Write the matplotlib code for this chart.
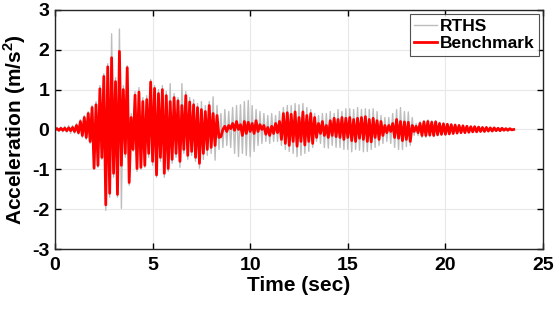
import numpy as np
import matplotlib
matplotlib.use("Agg")
import matplotlib.pyplot as plt

# sample step (s) of the peak-to-peak readings below
DT = 0.1

# Benchmark acceleration (m/s^2), one row per second
benchmark = [
    0.0, 0.02, -0.02, 0.03, -0.02, 0.03, -0.03, 0.04, -0.03, 0.05,
    -0.05, 0.1, -0.08, 0.2, -0.15, 0.3, -0.2, 0.4, -0.3, 0.55,
    -0.97, 0.62, -0.9, 1.02, -0.7, 1.33, -1.89, 1.57, -1.6, 1.8,
    -1.1, 1.2, -1.63, 1.96, -0.9, 1.0, -0.6, 1.55, -1.33, 0.3,
    -0.5, 0.86, -0.98, 0.94, -0.95, 0.7, -0.9, 0.75, -0.6, 1.19,
    -0.8, 1.03, -1.14, 0.9, -0.7, 1.0, -1.1, 0.85, -0.98, 0.7,
    -0.75, 0.8, -0.6, 0.72, -0.8, 0.6, -0.5, 0.85, -0.65, 0.69,
    -0.55, 0.62, -0.7, 0.55, -0.85, 0.5, -0.6, 0.45, -0.5, 0.6,
    -0.45, 0.4, -0.4, 0.35, -0.2, -0.18, 0.0, 0.08, -0.05, 0.1,
    0.02, 0.15, -0.02, 0.2, 0.0, 0.12, -0.15, 0.2, -0.1, 0.18,
    -0.05, 0.15, -0.1, 0.22, -0.05, 0.12, 0.0, 0.1, -0.12, 0.05,
    -0.15, 0.08, -0.1, 0.15, -0.08, 0.2, -0.25, 0.4, -0.35, 0.42,
    -0.4, 0.38, -0.3, 0.44, -0.42, 0.3, -0.3, 0.44, -0.39, 0.35,
    -0.3, 0.4, -0.35, 0.3, -0.2, 0.15, -0.1, 0.2, -0.15, 0.1,
    -0.2, 0.22, -0.15, 0.28, -0.18, 0.25, -0.2, 0.3, -0.25, 0.28,
    -0.2, 0.3, -0.28, 0.25, -0.3, 0.28, -0.22, 0.3, -0.25, 0.32,
    -0.3, 0.25, -0.31, 0.28, -0.2, 0.22, -0.25, 0.2, -0.15, 0.1,
    -0.08, 0.1, -0.05, 0.15, -0.2, 0.25, -0.22, 0.2, -0.28, 0.19,
    -0.25, 0.18, -0.3, 0.1, -0.05, 0.08, -0.08, 0.15, -0.15, 0.19,
    -0.15, 0.2, -0.14, 0.18, -0.15, 0.19, -0.13, 0.15, -0.12, 0.14,
    -0.12, 0.13, -0.11, 0.12, -0.1, 0.11, -0.09, 0.1, -0.08, 0.09,
    -0.08, 0.08, -0.07, 0.07, -0.06, 0.07, -0.06, 0.06, -0.05, 0.05,
    -0.05, 0.05, -0.04, 0.04, -0.04, 0.04, -0.03, 0.03, -0.03, 0.03,
    -0.02, 0.02, -0.02, 0.02, -0.01, 0.0,
]

# RTHS acceleration (m/s^2)
rths = [
    0.0, 0.05, -0.05, 0.06, -0.06, 0.08, -0.07, 0.1, -0.1, 0.1,
    -0.1, 0.15, -0.12, 0.25, -0.2, 0.35, -0.25, 0.45, -0.35, 0.6,
    -1.0, 0.7, -0.95, 1.1, -0.75, 1.4, -2.03, 1.65, -1.7, 2.4,
    -1.2, 1.3, -1.7, 2.52, -1.98, 1.1, -0.7, 1.6, -1.4, 0.4,
    -0.55, 0.95, -1.05, 1.05, -1.0, 0.8, -0.95, 0.85, -0.7, 1.25,
    -0.9, 1.1, -1.2, 1.0, -0.8, 1.1, -1.2, 0.95, -1.05, 1.15,
    -0.85, 0.9, -0.7, 0.8, -0.95, 1.15, -0.6, 0.95, -0.75, 0.8,
    -0.65, 0.75, -0.8, 0.65, -0.97, 0.7, -0.75, 0.6, -0.65, 0.7,
    -0.6, 0.82, -0.77, 0.6, -0.5, 0.4, -0.45, 0.5, -0.4, 0.45,
    -0.45, 0.55, -0.6, 0.6, -0.68, 0.62, -0.6, 0.7, -0.65, 0.73,
    -0.68, 0.6, -0.55, 0.5, -0.4, 0.45, -0.35, 0.4, -0.3, 0.35,
    -0.35, 0.4, -0.3, 0.35, -0.3, 0.45, -0.4, 0.55, -0.5, 0.6,
    -0.55, 0.6, -0.6, 0.65, -0.68, 0.62, -0.65, 0.65, -0.6, 0.55,
    -0.55, 0.5, -0.45, 0.4, -0.3, 0.35, -0.35, 0.4, -0.45, 0.4,
    -0.47, 0.45, -0.4, 0.4, -0.45, 0.5, -0.45, 0.45, -0.5, 0.52,
    -0.5, 0.52, -0.56, 0.5, -0.5, 0.55, -0.52, 0.5, -0.56, 0.52,
    -0.55, 0.5, -0.5, 0.52, -0.45, 0.45, -0.4, 0.35, -0.35, 0.3,
    -0.3, 0.3, -0.35, 0.4, -0.45, 0.5, -0.5, 0.55, -0.5, 0.45,
    -0.43, 0.44, -0.4, 0.3, -0.15, 0.15, -0.15, 0.2, -0.2, 0.22,
    -0.2, 0.24, -0.18, 0.22, -0.18, 0.22, -0.16, 0.18, -0.15, 0.17,
    -0.14, 0.15, -0.13, 0.14, -0.12, 0.13, -0.11, 0.12, -0.1, 0.11,
    -0.09, 0.09, -0.08, 0.08, -0.07, 0.08, -0.07, 0.07, -0.06, 0.06,
    -0.06, 0.06, -0.05, 0.05, -0.05, 0.05, -0.04, 0.04, -0.04, 0.04,
    -0.03, 0.03, -0.02, 0.02, -0.01, 0.0,
]

t = np.arange(len(benchmark)) * DT

plt.rcParams["font.family"] = ["Liberation Sans", "DejaVu Sans"]
plt.rcParams["font.weight"] = "bold"
plt.rcParams["axes.unicode_minus"] = False
plt.rcParams["mathtext.fontset"] = "custom"
plt.rcParams["mathtext.rm"] = "Liberation Sans:bold"
plt.rcParams["mathtext.bf"] = "Liberation Sans:bold"

fig = plt.figure(figsize=(5.58, 3.09), dpi=100)
ax = fig.add_axes([0.0986, 0.194, 0.8745, 0.774])

ax.plot(t, rths, color="#bdbdbd", lw=1.0, label="RTHS")
ax.plot(t, benchmark, color="#ff0000", lw=2.0, label="Benchmark")

ax.set_xlim(0, 25)
ax.set_ylim(-3, 3)
ax.set_xticks([0, 5, 10, 15, 20, 25])
ax.set_yticks([-3, -2, -1, 0, 1, 2, 3])
ax.grid(True, color="#e8e8e8", lw=0.8)
ax.set_axisbelow(True)
ax.tick_params(direction="in", top=True, right=True, labelsize=14,
               length=4, width=1, pad=4)
ax.tick_params(axis="x", pad=6)
for s in ax.spines.values():
    s.set_linewidth(1.0)
    s.set_color("#262626")

ax.set_xlabel("Time (sec)", fontsize=15, fontweight="bold", labelpad=1)
ax.set_ylabel(r"Acceleration (m/s$^{2}$)", fontsize=15, fontweight="bold", labelpad=3)

leg = ax.legend(loc="upper right", fontsize=12.5, frameon=True, fancybox=False,
                edgecolor="#262626", handlelength=1.3, handletextpad=0.15,
                borderpad=0.25, labelspacing=0.15, borderaxespad=0.25)
leg.get_frame().set_linewidth(0.8)

fig.savefig("out.png", dpi=100)
